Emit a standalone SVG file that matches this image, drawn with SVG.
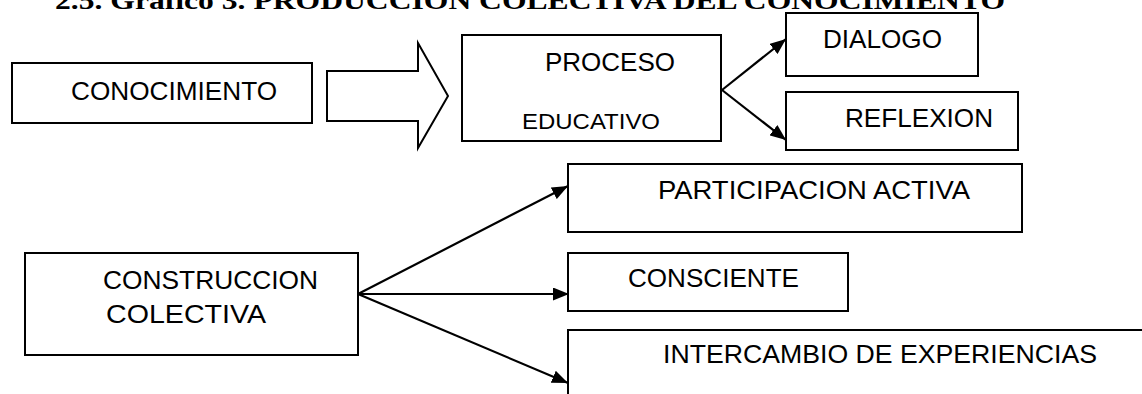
<svg xmlns="http://www.w3.org/2000/svg" width="1142" height="394" viewBox="0 0 1142 394">
<style>
.box{fill:#fff;stroke:#000;stroke-width:2}
.t{font-family:"Liberation Sans",Arial,sans-serif;font-size:25px;fill:#000}
.s{font-size:22px}
.title{font-family:"Liberation Serif","Times New Roman",serif;font-size:25px;font-weight:bold;fill:#000}
.c{fill:none;stroke:#000;stroke-width:2.2}
</style>
<defs>
<marker id="ah" markerUnits="userSpaceOnUse" viewBox="0 0 16 13" markerWidth="16" markerHeight="13" refX="16" refY="6.5" orient="auto">
<path d="M0,0 L16,6.5 L0,13 z" fill="#000"/>
</marker>
</defs>
<rect width="1142" height="394" fill="#fff"/>
<text class="title" x="55" y="9" textLength="950" lengthAdjust="spacingAndGlyphs">2.5.  Grafico 3. PRODUCCION COLECTIVA DEL CONOCIMIENTO</text>

<g id="conocimiento">
<rect class="box" x="12" y="63" width="300" height="60"/>
<text class="t" x="71" y="100" textLength="206" lengthAdjust="spacingAndGlyphs">CONOCIMIENTO</text>
</g>

<g id="proceso">
<rect class="box" x="462" y="35" width="259" height="106"/>
<text class="t" x="545" y="71" textLength="130" lengthAdjust="spacingAndGlyphs">PROCESO</text>
<text class="t s" x="522" y="129" textLength="138" lengthAdjust="spacingAndGlyphs">EDUCATIVO</text>
</g>

<g id="dialogo">
<rect class="box" x="786" y="13" width="192" height="63"/>
<text class="t" x="823" y="48" textLength="119" lengthAdjust="spacingAndGlyphs">DIALOGO</text>
</g>

<g id="reflexion">
<rect class="box" x="786" y="92" width="232" height="58"/>
<text class="t" x="845" y="127" textLength="148" lengthAdjust="spacingAndGlyphs">REFLEXION</text>
</g>

<g id="construccion">
<rect class="box" x="25" y="253" width="333" height="102"/>
<text class="t" x="103" y="289" textLength="215" lengthAdjust="spacingAndGlyphs">CONSTRUCCION</text>
<text class="t" x="106" y="323" textLength="160" lengthAdjust="spacingAndGlyphs">COLECTIVA</text>
</g>

<g id="participacion">
<rect class="box" x="568" y="164" width="454" height="68"/>
<text class="t" x="658" y="199" textLength="312" lengthAdjust="spacingAndGlyphs">PARTICIPACION ACTIVA</text>
</g>

<g id="consciente">
<rect class="box" x="568" y="253" width="280" height="58"/>
<text class="t" x="628" y="287" textLength="171" lengthAdjust="spacingAndGlyphs">CONSCIENTE</text>
</g>

<g id="intercambio">
<path class="box" d="M568,396 V330 H1144"/>
<text class="t" x="663" y="363" textLength="434" lengthAdjust="spacingAndGlyphs">INTERCAMBIO DE EXPERIENCIAS</text>
</g>

<g id="connectors">
<polygon id="block-arrow" points="327,71 418,71 418,43 448,96 418,148 418,121 327,121" fill="#fff" stroke="#000" stroke-width="2"/>
<line class="c" x1="722" y1="90" x2="786" y2="39" marker-end="url(#ah)"/>
<line class="c" x1="722" y1="90" x2="786" y2="140" marker-end="url(#ah)"/>
<line class="c" x1="358" y1="294" x2="568" y2="186" marker-end="url(#ah)"/>
<line class="c" x1="358" y1="294" x2="569" y2="294" marker-end="url(#ah)"/>
<line class="c" x1="358" y1="294" x2="568" y2="383" marker-end="url(#ah)"/>
</g>
</svg>
